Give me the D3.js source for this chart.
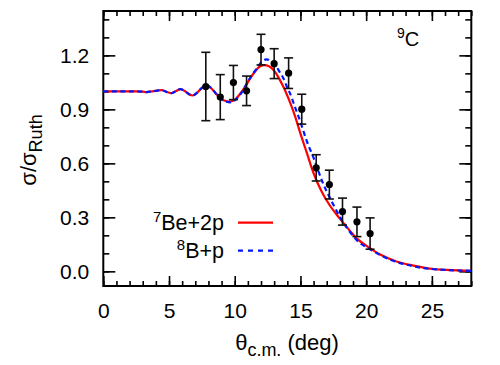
<!DOCTYPE html>
<html><head><meta charset="utf-8">
<script src="https://cdn.jsdelivr.net/npm/d3@7"></script>
<style>body{margin:0;background:#fff}svg{display:block}text{font-family:"Liberation Sans",Arial,sans-serif;fill:#000}</style>
</head><body><div id="c"></div>
<script>
// experimental data: angle (deg), ratio, error
const expAngle = [7.8, 8.9, 9.9, 10.9, 12.0, 13.0, 14.1, 15.1, 16.2, 17.2, 18.2, 19.3, 20.3];
const expRatio = [1.027, 0.968, 1.049, 1.003, 1.232, 1.154, 1.101, 0.901, 0.575, 0.482, 0.332, 0.275, 0.21];
const expError = [0.19, 0.125, 0.095, 0.082, 0.085, 0.083, 0.085, 0.083, 0.073, 0.08, 0.075, 0.082, 0.087];

// 7Be+2p calculation
const beAngle = [0, 1, 2, 2.5, 3.0, 3.3, 3.7, 4.1, 4.5, 4.9, 5.2, 5.5, 5.85, 6.2, 6.5, 6.8, 7.1, 7.5, 7.85, 8.2, 8.6, 9.0, 9.4, 9.75, 10.0, 10.4, 10.8, 11.2, 11.55, 11.9, 12.2, 12.6, 13.0, 13.4, 13.8, 14.2, 14.6, 15.0, 15.5, 16.0, 16.6, 17.2, 17.7, 18.2, 18.8, 19.3, 20.3, 21.1, 22.3, 23.6, 25.0, 26.1, 27.0, 28.0];
const beRatio = [1.0, 1.0, 1.0, 1.0, 0.998, 0.996, 1.0, 1.004, 1.006, 0.995, 0.99, 1.0, 1.012, 1.002, 0.985, 0.977, 0.99, 1.018, 1.03, 1.018, 0.985, 0.957, 0.945, 0.945, 0.953, 0.985, 1.027, 1.075, 1.11, 1.138, 1.146, 1.14, 1.115, 1.068, 1.01, 0.94, 0.86, 0.765, 0.655, 0.545, 0.445, 0.37, 0.32, 0.275, 0.222, 0.182, 0.128, 0.092, 0.055, 0.032, 0.014, 0.008, 0.005, 0.003];

// 8B+p calculation
const bAngle = [0, 1, 2, 2.5, 3.0, 3.3, 3.7, 4.1, 4.5, 4.9, 5.2, 5.5, 5.85, 6.2, 6.5, 6.8, 7.1, 7.5, 7.85, 8.2, 8.6, 9.0, 9.4, 9.75, 10.0, 10.5, 11.0, 11.4, 11.8, 12.0, 12.4, 12.8, 13.1, 13.4, 13.7, 14.0, 14.2, 14.6, 15.0, 15.5, 16.0, 16.4, 16.8, 17.3, 18.1, 18.6, 19.4, 20.3, 21.1, 22.0, 23.0, 24.0, 25.0, 26.0, 27.0, 28.0];
const bRatio = [1.0, 1.0, 1.0, 1.0, 0.998, 0.996, 1.0, 1.004, 1.006, 0.995, 0.99, 1.0, 1.012, 1.002, 0.985, 0.977, 0.99, 1.02, 1.034, 1.02, 0.985, 0.955, 0.942, 0.94, 0.95, 0.99, 1.054, 1.10, 1.138, 1.16, 1.178, 1.165, 1.145, 1.11, 1.073, 1.02, 0.99, 0.91, 0.83, 0.72, 0.63, 0.55, 0.475, 0.4, 0.29, 0.235, 0.165, 0.122, 0.09, 0.06, 0.038, 0.022, 0.013, 0.008, 0.005, 0.003];

const xTicks = [0, 5, 10, 15, 20, 25];
const yTicks = [0.0, 0.3, 0.6, 0.9, 1.2];

const W = 500, H = 365;
const L = 103.3, R = 471.3, T = 11, B = 286;
const svg = d3.select("#c").append("svg").attr("width", W).attr("height", H);
const x = d3.scaleLinear().domain([0, 28]).range([L, R]);
const y = d3.scaleLinear().domain([-0.0815, 1.4465]).range([B, T]);

svg.append("defs").append("clipPath").attr("id", "clip")
  .append("rect").attr("x", L).attr("y", T).attr("width", R - L).attr("height", B - T);

// axes with inner ticks
const minorX = d3.range(0, 29, 1), minorY = d3.range(0, 15).map(d => d / 10);
function addAxis(gen, tx, ty) { return svg.append("g").attr("transform", `translate(${tx},${ty})`).call(gen); }
addAxis(d3.axisBottom(x).tickValues(minorX).tickSize(-5).tickFormat(""), 0, B);
addAxis(d3.axisBottom(x).tickValues(xTicks).tickSize(-10).tickPadding(17).tickFormat(d3.format("d")), 0, B);
addAxis(d3.axisTop(x).tickValues(minorX).tickSize(-5).tickFormat(""), 0, T);
addAxis(d3.axisTop(x).tickValues(xTicks).tickSize(-10).tickFormat(""), 0, T);
addAxis(d3.axisLeft(y).tickValues(minorY).tickSize(-6).tickFormat(""), L, 0);
addAxis(d3.axisLeft(y).tickValues(yTicks).tickSize(-12).tickPadding(14).tickFormat(d3.format(".1f")), L, 0);
addAxis(d3.axisRight(y).tickValues(minorY).tickSize(-6).tickFormat(""), R, 0);
addAxis(d3.axisRight(y).tickValues(yTicks).tickSize(-12).tickFormat(""), R, 0);
svg.selectAll(".domain").remove();
svg.selectAll(".tick line").attr("stroke", "#000").attr("stroke-width", 1.6);
svg.selectAll(".tick text").attr("font-size", 21).attr("font-family", "Liberation Sans, Arial, sans-serif").attr("fill", "#000");
svg.append("rect").attr("x", L).attr("y", T).attr("width", R - L).attr("height", B - T)
  .attr("fill", "none").attr("stroke", "#000").attr("stroke-width", 2);

// curves
const line = d3.line().x(d => x(d[0])).y(d => y(d[1])).curve(d3.curveCatmullRom.alpha(0.5));
const g = svg.append("g").attr("clip-path", "url(#clip)");
g.append("path").datum(beAngle.map((a, i) => [a, beRatio[i]])).attr("d", line)
  .attr("fill", "none").attr("stroke", "#ff0000").attr("stroke-width", 2.2);
g.append("path").datum(bAngle.map((a, i) => [a, bRatio[i]])).attr("d", line)
  .attr("fill", "none").attr("stroke", "#0018ff").attr("stroke-width", 2.2).attr("stroke-dasharray", "5,3.5");

// data points
const pts = svg.append("g");
expAngle.forEach((a, i) => {
  const cx = x(a), y1 = y(expRatio[i] + expError[i]), y0 = y(expRatio[i] - expError[i]);
  pts.append("line").attr("x1", cx).attr("x2", cx).attr("y1", y1).attr("y2", y0).attr("stroke", "#111").attr("stroke-width", 1.6);
  pts.append("line").attr("x1", cx - 4.5).attr("x2", cx + 4.5).attr("y1", y1).attr("y2", y1).attr("stroke", "#111").attr("stroke-width", 1.6);
  pts.append("line").attr("x1", cx - 4.5).attr("x2", cx + 4.5).attr("y1", y0).attr("y2", y0).attr("stroke", "#111").attr("stroke-width", 1.6);
  pts.append("circle").attr("cx", cx).attr("cy", y(expRatio[i])).attr("r", 3.6).attr("fill", "#000");
});

// legend
const leg = svg.append("g");
const t1 = leg.append("text").attr("x", 224).attr("y", 230).attr("text-anchor", "end").attr("font-size", 21.5);
t1.append("tspan").text("7").attr("font-size", 15).attr("dy", -8);
t1.append("tspan").text("Be+2p").attr("dy", 8);
const t2 = leg.append("text").attr("x", 224).attr("y", 258).attr("text-anchor", "end").attr("font-size", 21.5);
t2.append("tspan").text("8").attr("font-size", 15).attr("dy", -8);
t2.append("tspan").text("B+p").attr("dy", 8);
leg.append("line").attr("x1", 238).attr("x2", 273).attr("y1", 222.7).attr("y2", 222.7).attr("stroke", "#ff0000").attr("stroke-width", 2.2);
leg.append("line").attr("x1", 238).attr("x2", 273).attr("y1", 250.7).attr("y2", 250.7).attr("stroke", "#0018ff").attr("stroke-width", 2.2).attr("stroke-dasharray", "5,5");

// nucleus label
const nl = svg.append("text").attr("x", 397).attr("y", 46).attr("font-size", 20);
nl.append("tspan").text("9").attr("font-size", 14).attr("dy", -8);
nl.append("tspan").text("C").attr("dy", 8);

// axis titles
const xt = svg.append("text").attr("x", 287).attr("y", 350).attr("text-anchor", "middle").attr("font-size", 22);
xt.append("tspan").text("θ");
xt.append("tspan").text("c.m.").attr("font-size", 18).attr("dy", 6);
xt.append("tspan").text(" (deg)").attr("dy", -6);
const yt = svg.append("text").attr("transform", "translate(36,150) rotate(-90)").attr("text-anchor", "middle").attr("font-size", 22);
yt.append("tspan").text("σ/σ");
yt.append("tspan").text("Ruth").attr("font-size", 18).attr("dy", 6);
</script></body></html>
